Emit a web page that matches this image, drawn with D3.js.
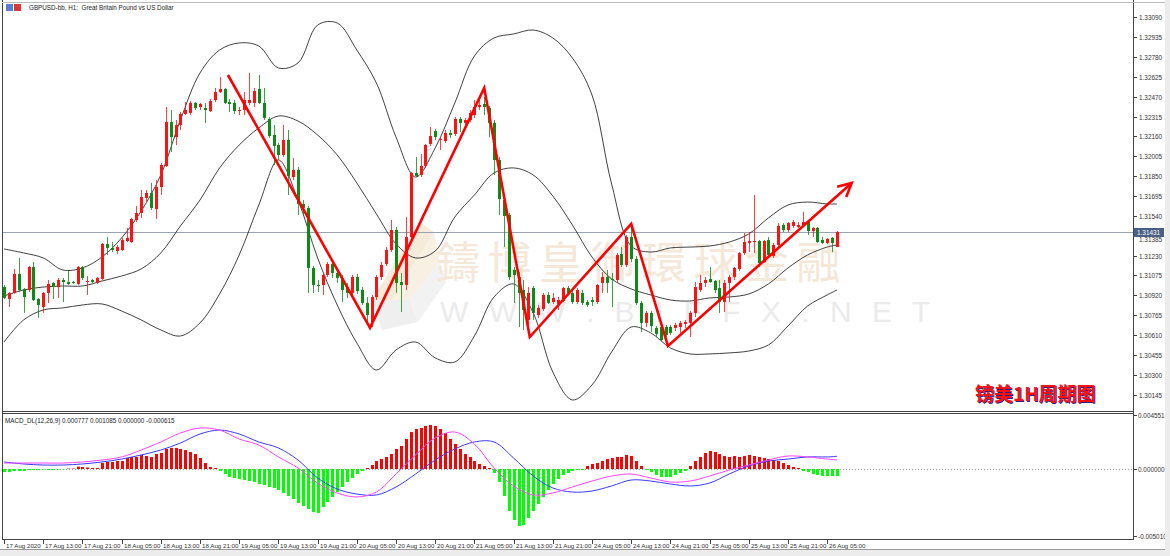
<!DOCTYPE html>
<html><head><meta charset="utf-8">
<script src="https://cdn.jsdelivr.net/npm/d3@7"></script>
<style>
html,body{margin:0;padding:0;background:#fff;}
svg{display:block;font-family:"Liberation Sans",Arial,sans-serif;}
</style></head><body>
<svg id="c" width="1170" height="556"></svg>
<script>
// ---------- DATA ----------
const openP = [1.30985,1.30892,1.30939,1.31087,1.30970,1.30962,1.31141,1.30892,1.30829,1.30939,1.31017,1.30985,1.31040,1.31024,1.31024,1.31009,1.31141,1.31024,1.31040,1.31017,
1.31048,1.31321,1.31290,1.31266,1.31274,1.31344,1.31336,1.31508,1.31563,1.31680,1.31719,1.31594,1.31765,1.31929,1.32272,1.32155,1.32249,1.32335,1.32343,1.32421,
1.32389,1.32382,1.32358,1.32444,1.32506,1.32530,1.32428,1.32421,1.32358,1.32366,1.32421,1.32421,1.32530,1.32421,1.32296,1.32171,1.32093,1.32015,1.32132,1.31843,
1.31898,1.31633,1.31602,1.31134,1.31001,1.31001,1.31079,1.31165,1.31095,1.31056,1.30985,1.30939,1.31063,1.30962,1.30861,1.30712,1.30907,1.31063,1.31165,1.31274,
1.31430,1.31024,1.31001,1.31375,1.31875,1.31859,1.31929,1.32101,1.32202,1.32132,1.32124,1.32187,1.32179,1.32296,1.32265,1.32288,1.32327,1.32389,1.32413,1.32382,
1.32265,1.31976,1.31664,1.31547,1.31118,1.31063,1.30962,1.30728,1.30978,1.30767,1.30814,1.30923,1.30868,1.30853,1.30876,1.30978,1.30939,1.30868,1.30939,1.30868,
1.30884,1.30868,1.31017,1.31063,1.31048,1.31040,1.31243,1.31157,1.31375,1.31204,1.30861,1.30705,1.30783,1.30666,1.30673,1.30673,1.30673,1.30666,1.30673,1.30697,
1.30705,1.30783,1.30962,1.31017,1.31048,1.31032,1.30978,1.30868,1.31017,1.31063,1.31126,1.31250,1.31329,1.31336,1.31344,1.31180,1.31352,1.31227,1.31313,1.31469,
1.31430,1.31461,1.31453,1.31469,1.31492,1.31422,1.31446,1.31352,1.31329,1.31368,1.31297];
const highP = [1.31001,1.30946,1.31126,1.31212,1.30978,1.31149,1.31180,1.30900,1.30946,1.31040,1.31024,1.31056,1.31056,1.31110,1.31032,1.31149,1.31149,1.31071,1.31048,1.31063,
1.31329,1.31375,1.31336,1.31313,1.31368,1.31446,1.31524,1.31617,1.31742,1.31742,1.31797,1.31820,1.31953,1.32389,1.32366,1.32288,1.32350,1.32428,1.32436,1.32428,
1.32421,1.32421,1.32452,1.32538,1.32623,1.32538,1.32452,1.32444,1.32389,1.32506,1.32655,1.32538,1.32639,1.32538,1.32311,1.32249,1.32109,1.32249,1.32210,1.31992,
1.31922,1.31664,1.31617,1.31149,1.31040,1.31095,1.31180,1.31180,1.31118,1.31079,1.31017,1.31079,1.31087,1.30985,1.30907,1.30923,1.31079,1.31180,1.31297,1.31508,
1.31453,1.31095,1.31532,1.31882,1.31999,1.32023,1.32101,1.32233,1.32218,1.32155,1.32210,1.32210,1.32311,1.32311,1.32304,1.32366,1.32444,1.32444,1.32467,1.32397,
1.32288,1.31999,1.31703,1.31563,1.31141,1.31102,1.31040,1.30985,1.30993,1.30845,1.30939,1.30946,1.30939,1.30907,1.30985,1.30993,1.30954,1.30978,1.30962,1.30884,
1.30907,1.31009,1.31102,1.31118,1.31095,1.31250,1.31297,1.31391,1.31453,1.31227,1.30876,1.30798,1.30798,1.30681,1.30705,1.30689,1.30689,1.30705,1.30720,1.30728,
1.30798,1.31024,1.31079,1.31063,1.31141,1.31040,1.31040,1.31040,1.31079,1.31141,1.31258,1.31406,1.31414,1.31703,1.31352,1.31352,1.31375,1.31329,1.31484,1.31484,
1.31492,1.31508,1.31492,1.31571,1.31508,1.31453,1.31453,1.31375,1.31368,1.31375,1.31422];
const lowP = [1.30892,1.30829,1.30931,1.30946,1.30783,1.30946,1.30876,1.30744,1.30783,1.30861,1.30892,1.30900,1.30868,1.31001,1.31009,1.31001,1.31040,1.30923,1.31017,1.31009,
1.31040,1.31235,1.31258,1.31243,1.31266,1.31336,1.31329,1.31492,1.31524,1.31648,1.31586,1.31516,1.31703,1.31922,1.32038,1.32093,1.32210,1.32327,1.32327,1.32366,
1.32366,1.32265,1.32350,1.32428,1.32499,1.32413,1.32350,1.32335,1.32327,1.32327,1.32405,1.32389,1.32413,1.32288,1.32148,1.31937,1.31976,1.31999,1.31703,1.31820,
1.31547,1.31547,1.30939,1.30939,1.30946,1.30923,1.31063,1.31056,1.31017,1.30868,1.30900,1.30915,1.30931,1.30845,1.30705,1.30673,1.30884,1.31040,1.31149,1.31258,
1.30939,1.30790,1.30962,1.31352,1.31843,1.31843,1.31914,1.32085,1.32132,1.32054,1.32109,1.32148,1.32163,1.32194,1.32249,1.32272,1.32304,1.32366,1.32327,1.32155,
1.31859,1.31547,1.31297,1.31040,1.30861,1.30673,1.30650,1.30650,1.30728,1.30744,1.30798,1.30853,1.30853,1.30806,1.30868,1.30923,1.30853,1.30853,1.30845,1.30829,
1.30837,1.30853,1.30939,1.30939,1.30829,1.31017,1.31141,1.31141,1.31180,1.30845,1.30634,1.30673,1.30634,1.30595,1.30564,1.30595,1.30611,1.30642,1.30627,1.30666,
1.30595,1.30751,1.30946,1.30985,1.31017,1.30939,1.30783,1.30790,1.30868,1.31040,1.31110,1.31235,1.31258,1.31250,1.31141,1.31173,1.31212,1.31212,1.31297,1.31414,
1.31414,1.31446,1.31446,1.31453,1.31391,1.31375,1.31329,1.31321,1.31321,1.31258,1.31297];
const closeP = [1.30900,1.30939,1.31087,1.30962,1.30907,1.31141,1.30884,1.30845,1.30939,1.31009,1.30985,1.31040,1.31024,1.31009,1.31017,1.31141,1.31056,1.31032,1.31024,1.31056,
1.31321,1.31290,1.31274,1.31297,1.31352,1.31368,1.31516,1.31563,1.31687,1.31719,1.31602,1.31765,1.31937,1.32272,1.32155,1.32249,1.32335,1.32366,1.32421,1.32382,
1.32413,1.32366,1.32436,1.32506,1.32530,1.32421,1.32413,1.32358,1.32366,1.32444,1.32444,1.32514,1.32421,1.32304,1.32163,1.32085,1.32015,1.32132,1.31851,1.31898,
1.31633,1.31602,1.31134,1.31001,1.30993,1.31079,1.31165,1.31095,1.31056,1.30962,1.30939,1.31063,1.30954,1.30861,1.30767,1.30907,1.31063,1.31157,1.31274,1.31430,
1.31017,1.31001,1.31375,1.31875,1.31851,1.31929,1.32093,1.32163,1.32155,1.32140,1.32187,1.32171,1.32296,1.32265,1.32288,1.32343,1.32389,1.32405,1.32389,1.32265,
1.31976,1.31672,1.31539,1.31063,1.31079,1.30939,1.30806,1.30939,1.30783,1.30822,1.30923,1.30861,1.30900,1.30884,1.30978,1.30939,1.30868,1.30962,1.30861,1.30845,
1.30868,1.31001,1.31063,1.31017,1.31040,1.31235,1.31157,1.31375,1.31204,1.30861,1.30705,1.30783,1.30681,1.30619,1.30572,1.30611,1.30627,1.30689,1.30705,1.30712,
1.30783,1.30985,1.31017,1.31040,1.31024,1.30962,1.30868,1.31017,1.31063,1.31134,1.31250,1.31336,1.31344,1.31344,1.31173,1.31344,1.31235,1.31313,1.31461,1.31430,
1.31484,1.31492,1.31469,1.31492,1.31422,1.31446,1.31336,1.31329,1.31360,1.31329,1.31414];

// Bollinger bands, read at every 4th bar
const bandIdx = [0,4,8,12,16,20,24,28,32,36,40,44,48,52,56,60,64,68,72,76,80,84,88,92,96,100,104,108,112,116,120,124,128,132,136,140,144,148,152,156,160,164,168,170];
const bbUpper = [1.31282,1.31251,1.31212,1.31118,1.31134,1.31219,1.31368,1.31578,1.31859,1.32288,1.32655,1.32834,1.32889,1.32865,1.32694,1.32733,1.33029,1.33045,1.32834,1.32577,
1.32155,1.31843,1.32070,1.32421,1.32787,1.32928,1.32959,1.32990,1.32928,1.32772,1.32483,1.31789,1.31305,1.31258,1.31290,1.31297,1.31305,1.31336,1.31399,1.31524,1.31625,1.31648,1.31633,1.31633];
const bbMiddle = [1.30915,1.30962,1.30985,1.30993,1.30993,1.31032,1.31071,1.31126,1.31251,1.31461,1.31664,1.31914,1.32093,1.32226,1.32319,1.32280,1.32171,1.32015,1.31797,1.31555,
1.31321,1.31212,1.31266,1.31531,1.31703,1.31875,1.31914,1.31859,1.31695,1.31469,1.31219,1.31048,1.30970,1.30923,1.30884,1.30876,1.30900,1.30907,1.30931,1.31009,1.31134,1.31235,1.31297,1.31313];
const bbLower = [1.30556,1.30728,1.30806,1.30822,1.30845,1.30853,1.30798,1.30728,1.30650,1.30603,1.30705,1.30931,1.31235,1.31625,1.31976,1.31664,1.31212,1.30845,1.30549,1.30338,
1.30494,1.30556,1.30432,1.30400,1.30603,1.30907,1.31009,1.30783,1.30322,1.30104,1.30221,1.30478,1.30673,1.30627,1.30510,1.30463,1.30463,1.30471,1.30486,1.30533,1.30681,1.30837,1.30923,1.30962];

// MACD_DL histogram, one per bar
const macdHist = [-0.00026,-0.00026,-0.00017,-0.00017,-0.00017,-0.00009,-0.00009,-0.00009,-0.00004,-0.00009,-0.00009,-0.00004,-0.00004,0.00004,
0.00004,0.0002,0.00017,0.00013,0.00009,0.00009,0.00051,0.0006,0.0006,0.00068,0.00068,0.00094,0.00103,0.00103,0.0012,0.00111,0.00103,0.00128,0.00137,0.00171,0.0018,0.0018,0.00171,0.00162,0.00145,0.00128,0.00094,0.00051,0.00017,0.00009,
-0.00017,-0.00043,-0.00068,-0.00077,-0.00086,-0.00094,-0.00103,-0.00111,-0.00128,-0.00137,-0.00154,-0.00162,-0.0018,-0.00205,-0.00231,-0.00257,-0.00291,-0.00316,-0.00342,-0.00368,-0.00376,-0.00325,-0.00282,-0.00239,-0.00197,-0.00154,-0.00111,-0.00077,-0.00043,-0.00017,
0.00009,0.00034,0.00068,0.00086,0.00103,0.00128,0.00171,0.00197,0.00257,0.00316,0.00342,0.00351,0.00368,0.00376,0.00368,0.00342,0.00308,0.00257,0.00214,0.00171,0.00128,0.00103,0.00068,0.00043,0.00026,0.00009,
-0.00034,-0.00111,-0.00231,-0.00359,-0.00436,-0.00487,-0.00479,-0.00419,-0.00359,-0.00299,-0.00239,-0.0018,-0.00128,-0.00086,-0.00051,-0.00034,-0.00017,-0.00009,-0.00009,
0.00026,0.00043,0.00051,0.00068,0.00086,0.00094,0.00103,0.00103,0.0012,0.00111,0.00068,0.00026,-0.00009,
-0.00026,-0.00051,-0.00068,-0.00068,-0.00068,-0.00051,-0.00034,-0.00017,
0.00026,0.00068,0.00103,0.00137,0.00154,0.00145,0.00128,0.00111,0.00103,0.00111,0.00103,0.00111,0.0012,0.00111,0.00103,0.00094,0.00086,0.00077,0.00068,0.00051,0.00034,0.00017,0.00009,
-0.00017,-0.00026,-0.00043,-0.00051,-0.0006,-0.0006,-0.0006,-0.000615];
// MACD lines, read at the same bars as the bands
const macdMain = [0.00051,0.00051,0.00051,0.00051,0.0006,0.00077,0.00103,0.00162,0.00231,0.00308,0.0035,0.00333,0.00256,0.00205,0.00103,0.00009,-0.0012,-0.00205,-0.00239,-0.00197,
-0.00043,0.0012,0.00265,0.00316,0.00214,0.00009,-0.00145,-0.00222,-0.00205,-0.00154,-0.00103,-0.0006,-0.00043,-0.00077,-0.00111,-0.00103,-0.0006,-0.00009,0.00034,0.00077,0.00111,0.00103,0.00085,0.000777];
const macdSignal = [0.0006,0.00043,0.00034,0.00034,0.00043,0.0006,0.00085,0.0012,0.00162,0.00222,0.00299,0.00333,0.00299,0.00231,0.0018,0.00077,-0.00077,-0.00171,-0.00214,-0.00222,
-0.00154,-0.00043,0.00077,0.00171,0.00231,0.00231,0.00094,-0.0006,-0.00162,-0.00197,-0.00188,-0.00145,-0.00094,-0.00103,-0.00128,-0.00145,-0.0012,-0.00043,0.00026,0.00068,0.00085,0.00103,0.00103,0.001085];

// hand-drawn zigzag (bar index, price)
const zigBar = [45.7,74.7,98.0,107.3,128.0,135.5,173.0];
const zigPrice = [1.32639,1.30666,1.32538,1.30595,1.31477,1.30525,1.31797];

const priceTicks = [1.33090,1.32935,1.32780,1.32625,1.32470,1.32315,1.32160,1.32005,1.31850,1.31695,1.31540,1.31385,1.31230,1.31075,1.30920,1.30765,1.30610,1.30455,1.30300,1.30145];
const timeLabels = ["17 Aug 2020","17 Aug 13:00","17 Aug 21:00","18 Aug 05:00","18 Aug 13:00","18 Aug 21:00","19 Aug 05:00","19 Aug 13:00","19 Aug 21:00","20 Aug 05:00","20 Aug 13:00","20 Aug 21:00","21 Aug 05:00","21 Aug 13:00","21 Aug 21:00","24 Aug 05:00","24 Aug 13:00","24 Aug 21:00","25 Aug 05:00","25 Aug 13:00","25 Aug 21:00","26 Aug 05:00"];
const barsPerLabel = 8;
const macdAxisLabels = ["0.004551","0.000000","-0.005010"];
const titleText = "GBPUSD-bb, H1:  Great Britain Pound vs US Dollar";
const macdTitle = "MACD_DL(12,26,9) 0.000777 0.001085 0.000000 -0.000615";
const currentLabel = "1.31431";
const chartNote = "镑美1H周期图";
const watermark = ["鑄","博","皇","御","環","球","金","融"];
const watermarkUrl = "W W W . B I F F X . N E T";

// ---------- LAYOUT ----------
const svg = d3.select("#c");
const L = 3, R = 1133, mainTop = 4, mainBot = 411, subTop = 414, subBot = 539;
const x = d3.scaleLinear().domain([0, 170]).range([4, 837]);
const y = d3.scaleLinear().domain([1.30145, 1.33090]).range([394.7, 17.2]);
const ym = d3.scaleLinear().domain([-0.005983, 0.004701]).range([subBot, subTop]);

svg.append("rect").attr("width",1170).attr("height",556).attr("fill","#fff");
const defs = svg.append("defs");
defs.append("clipPath").attr("id","cm").append("rect").attr("x",L).attr("y",mainTop).attr("width",R-L).attr("height",mainBot-mainTop);
defs.append("clipPath").attr("id","cs").append("rect").attr("x",L).attr("y",subTop).attr("width",R-L).attr("height",subBot-subTop);

// watermark
const wm = svg.append("g").attr("clip-path","url(#cm)");
const logo = wm.append("g");
logo.append("path").attr("d","M372,300 L420,222 L434,232 L392,300 Z").attr("fill","#f6ead8");
logo.append("path").attr("d","M392,300 L434,232 L440,262 L410,300 Z").attr("fill","#f9f0e4");
logo.append("path").attr("d","M372,300 L410,300 L418,322 L382,330 Z").attr("fill","#efefef");
logo.append("path").attr("d","M410,300 L440,262 L446,282 L418,322 Z").attr("fill","#f2f2f2");
wm.selectAll("text.wm").data(watermark).join("text")
  .attr("x",(d,k)=>458+k*51.5).attr("y",279).attr("text-anchor","middle")
  .attr("font-family","'Noto Sans CJK TC','Noto Sans CJK SC',sans-serif").attr("font-size",44)
  .attr("fill","#f5e8d8").text(d=>d);
wm.append("text").attr("x",440).attr("y",322).attr("font-size",30).attr("fill","#ebebeb")
  .attr("font-family","'Liberation Sans',sans-serif").attr("letter-spacing",6).text(watermarkUrl);

// main plot
const gm = svg.append("g").attr("clip-path","url(#cm)");
const lastClose = closeP[closeP.length-1];
gm.append("line").attr("x1",L).attr("x2",R).attr("y1",Math.round(y(lastClose))+0.5).attr("y2",Math.round(y(lastClose))+0.5)
  .attr("stroke","#9aa3b0").attr("stroke-width",1);

const bandLine = arr => d3.line().x((d,k)=>x(bandIdx[k])).y(d=>y(d)).curve(d3.curveCatmullRom.alpha(0.5))(arr);
[bbUpper,bbMiddle,bbLower].forEach(arr=>{
  gm.append("path").attr("d",bandLine(arr)).attr("fill","none").attr("stroke","#2b2b2b").attr("stroke-width",0.9);
});

const idx = d3.range(closeP.length);
const upC = "#ff1111", dnC = "#0f8a16";
const cg = gm.append("g");
cg.selectAll("line.w").data(idx).join("line")
  .attr("x1",i=>Math.round(x(i))+0.5).attr("x2",i=>Math.round(x(i))+0.5)
  .attr("y1",i=>y(highP[i])).attr("y2",i=>y(lowP[i]))
  .attr("stroke",i=>closeP[i]>=openP[i]?upC:dnC).attr("stroke-width",1).attr("stroke-opacity",0.8);
cg.selectAll("rect.b").data(idx).join("rect")
  .attr("x",i=>Math.round(x(i))-1).attr("width",3)
  .attr("y",i=>Math.min(y(openP[i]),y(closeP[i])))
  .attr("height",i=>Math.max(1,Math.abs(y(openP[i])-y(closeP[i]))))
  .attr("fill",i=>closeP[i]>=openP[i]?upC:dnC);

const zpts = zigBar.map((b,k)=>[x(b),y(zigPrice[k])]);
gm.append("path").attr("d",d3.line()(zpts)).attr("fill","none").attr("stroke","#ff0000").attr("stroke-width",2.6).attr("stroke-linejoin","miter");
{
  const a = zpts[zpts.length-2], b = zpts[zpts.length-1];
  const ang = Math.atan2(b[1]-a[1], b[0]-a[0]);
  const len = 15, spread = 0.47;
  const w1 = [b[0]-len*Math.cos(ang-spread), b[1]-len*Math.sin(ang-spread)];
  const w2 = [b[0]-len*Math.cos(ang+spread), b[1]-len*Math.sin(ang+spread)];
  gm.append("path").attr("d",d3.line()([w1,b,w2])).attr("fill","none").attr("stroke","#ff0000").attr("stroke-width",2.6);
}

const note = svg.append("g").attr("font-family","'Noto Sans CJK SC',sans-serif").attr("font-size",19).attr("font-weight","bold");
note.append("text").attr("x",976).attr("y",402).attr("fill","#22208a").text(chartNote);
note.append("text").attr("x",975).attr("y",401).attr("fill","#ff1010").text(chartNote);

// MACD panel
const gs = svg.append("g").attr("clip-path","url(#cs)");
gs.append("line").attr("x1",L).attr("x2",R).attr("y1",Math.round(ym(0))+0.5).attr("y2",Math.round(ym(0))+0.5)
  .attr("stroke","#a0a0a0").attr("stroke-dasharray","1,2");
gs.selectAll("rect.h").data(idx).join("rect")
  .attr("x",i=>Math.round(x(i))-1).attr("width",3)
  .attr("y",i=>Math.min(ym(0),ym(macdHist[i])))
  .attr("height",i=>Math.abs(ym(macdHist[i])-ym(0)))
  .attr("fill",i=>macdHist[i]>=0?"#ff0000":"#00ff00");
const mline = arr => d3.line().x((d,k)=>x(bandIdx[k])).y(d=>ym(d)).curve(d3.curveCatmullRom.alpha(0.5))(arr);
gs.append("path").attr("d",mline(macdSignal)).attr("fill","none").attr("stroke","#3a3aff").attr("stroke-width",1);
gs.append("path").attr("d",mline(macdMain)).attr("fill","none").attr("stroke","#ff44ff").attr("stroke-width",1);

// frames
const fr = svg.append("g").attr("fill","none").attr("stroke","#444").attr("shape-rendering","crispEdges");
fr.append("line").attr("x1",2.5).attr("x2",2.5).attr("y1",0).attr("y2",540);
fr.append("line").attr("x1",R+0.5).attr("x2",R+0.5).attr("y1",0).attr("y2",540);
fr.append("line").attr("x1",2).attr("x2",R+1).attr("y1",mainBot+0.5).attr("y2",mainBot+0.5);
fr.append("line").attr("x1",2).attr("x2",R+1).attr("y1",subTop-0.5).attr("y2",subTop-0.5);
fr.append("line").attr("x1",2).attr("x2",R+1).attr("y1",subBot+0.5).attr("y2",subBot+0.5);
svg.append("line").attr("x1",2).attr("x2",1170).attr("y1",2.5).attr("y2",2.5).attr("stroke","#bbb");

// price axis
const pa = svg.append("g").attr("font-size",6.4).attr("fill","#333");
const lastY = Math.round(y(lastClose))+0.5;
priceTicks.forEach(p=>{
  const yy = Math.round(y(p))+0.5;
  pa.append("line").attr("x1",R).attr("x2",R+4).attr("y1",yy).attr("y2",yy).attr("stroke","#444");
  // a label hidden by the current-price tag is pushed just below it
  const ty = Math.abs(yy-lastY) < 8 ? lastY+9.5 : yy+2.3;
  pa.append("text").attr("x",R+6).attr("y",ty).text(p.toFixed(5));
});
svg.append("rect").attr("x",R+1).attr("y",lastY-4.5).attr("width",30).attr("height",9).attr("fill","#4a5f86");
svg.append("text").attr("x",R+4).attr("y",lastY+2.3).attr("font-size",6.4).attr("fill","#fff").text(currentLabel);

// MACD axis
const ma = svg.append("g").attr("font-size",6.4).attr("fill","#333");
[[subTop+1,0],[ym(0),1],[subBot-3,2]].forEach(([yy,k])=>{
  ma.append("line").attr("x1",R).attr("x2",R+4).attr("y1",Math.round(yy)+0.5).attr("y2",Math.round(yy)+0.5).attr("stroke","#444");
  ma.append("text").attr("x",R+5).attr("y",Math.round(yy)+2.8).text(macdAxisLabels[k]);
});

// time axis
const ta = svg.append("g").attr("font-size",6.2).attr("fill","#333");
timeLabels.forEach((t,k)=>{
  const xx = Math.round(x(k*barsPerLabel))+0.5;
  ta.append("line").attr("x1",xx).attr("x2",xx).attr("y1",subBot+1).attr("y2",subBot+5).attr("stroke","#444");
  ta.append("text").attr("x",xx+1.5).attr("y",subBot+8.5).text(t);
});

// titles
svg.append("rect").attr("x",6).attr("y",4).attr("width",7).attr("height",7).attr("fill","#5b7fd6");
svg.append("rect").attr("x",14).attr("y",4).attr("width",7).attr("height",7).attr("fill","#d83a3a");
svg.append("text").attr("x",29).attr("y",10).attr("font-size",6.3).attr("fill","#222").attr("xml:space","preserve").text(titleText);
svg.append("text").attr("x",5).attr("y",423).attr("font-size",6.3).attr("fill","#222").text(macdTitle);

// bottom strip
svg.append("rect").attr("x",0).attr("y",549).attr("width",1170).attr("height",7).attr("fill","#ececec");
svg.append("line").attr("x1",0).attr("x2",1170).attr("y1",549.5).attr("y2",549.5).attr("stroke","#999");
svg.append("rect").attr("x",1165).attr("y",0).attr("width",5).attr("height",556).attr("fill","#ececec");
</script>
</body></html>
